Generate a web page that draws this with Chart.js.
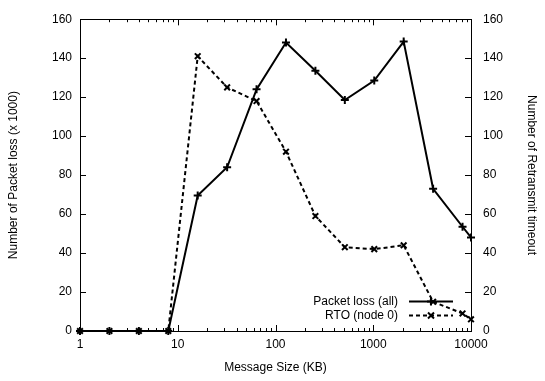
<!DOCTYPE html>
<html>
<head>
<meta charset="utf-8">
<script src="https://cdn.jsdelivr.net/npm/chart.js@4.4.0/dist/chart.umd.min.js"></script>
<style>
  html, body { margin: 0; padding: 0; background: #fff; }
</style>
</head>
<body>
<canvas id="lossChart" width="545" height="381"></canvas>
<script>
/* ===============================
   DATA
================================ */
const messageSizes = [1, 2, 4, 8, 16, 32, 64, 128, 256, 512, 1024, 2048, 4096, 8192, 10000];
const packetLoss = [0, 0, 0, 0, 69.5, 84, 124, 148, 133.5, 118.5, 128.5, 148.5, 73, 53.5, 48];
const rtoNode0 = [0, 0, 0, 0, 141, 125, 118, 92, 59, 43, 42, 44, 15, 9, 6];
const xTickValues = [1, 10, 100, 1000, 10000];
const yTickValues = [0, 20, 40, 60, 80, 100, 120, 140, 160];
const seriesNames = ["Packet loss (all)", "RTO (node 0)"];

const FONT = "'Liberation Sans', Arial, Helvetica, sans-serif";
Chart.defaults.font.family = FONT;
Chart.defaults.font.size = 12;
Chart.defaults.color = "#000";

function toPoints(values) {
  return messageSizes.map((x, i) => ({ x: x, y: values[i] }));
}

/* ===============================
   FRAME, TICKS, LEGEND (gnuplot look)
================================ */
const gnuplotFrame = {
  id: "gnuplotFrame",
  afterDatasetsDraw(chart) {
    const ctx = chart.ctx;
    const area = chart.chartArea;
    const xs = chart.scales.x;
    const yl = chart.scales.y;
    const yr = chart.scales.y2;

    ctx.save();
    ctx.strokeStyle = "#000";
    ctx.lineWidth = 1;
    ctx.strokeRect(Math.round(area.left) + 0.5, Math.round(area.top) + 0.5,
      Math.round(area.right - area.left), Math.round(area.bottom - area.top));

    ctx.beginPath();
    // x ticks, major and minor, bottom and top
    for (let d = 1; d < 10000; d *= 10) {
      for (let m = 1; m <= 10; m++) {
        const v = d * m;
        const px = Math.round(xs.getPixelForValue(v)) + 0.5;
        const len = (m === 1 || m === 10) ? 6 : 3;
        ctx.moveTo(px, area.bottom);
        ctx.lineTo(px, area.bottom - len);
        ctx.moveTo(px, area.top);
        ctx.lineTo(px, area.top + len);
      }
    }
    // y ticks
    yTickValues.forEach(v => {
      const pl = Math.round(yl.getPixelForValue(v)) + 0.5;
      ctx.moveTo(area.left, pl);
      ctx.lineTo(area.left + 6, pl);
      const pr = Math.round(yr.getPixelForValue(v)) + 0.5;
      ctx.moveTo(area.right, pr);
      ctx.lineTo(area.right - 6, pr);
    });
    ctx.stroke();

    // legend: text right aligned, then line sample with marker
    const rows = [301, 315];
    const sampleL = 409, sampleR = 453;
    ctx.font = "12px " + FONT;
    ctx.textAlign = "right";
    ctx.textBaseline = "middle";
    chart.data.datasets.forEach((ds, i) => {
      const y = rows[i] + 0.5;
      ctx.fillStyle = "#000";
      ctx.fillText(ds.label, sampleL - 11, y);
      ctx.beginPath();
      ctx.lineWidth = ds.borderWidth;
      ctx.setLineDash(ds.borderDash || []);
      ctx.moveTo(sampleL, y);
      ctx.lineTo(sampleR, y);
      ctx.stroke();
      ctx.setLineDash([]);
      const cx = (sampleL + sampleR) / 2;
      const r = ds.pointRadius;
      ctx.beginPath();
      if (ds.pointStyle === "cross") {
        ctx.moveTo(cx - r, y); ctx.lineTo(cx + r, y);
        ctx.moveTo(cx, y - r); ctx.lineTo(cx, y + r);
      } else {
        ctx.moveTo(cx - r * 0.75, y - r * 0.75); ctx.lineTo(cx + r * 0.75, y + r * 0.75);
        ctx.moveTo(cx - r * 0.75, y + r * 0.75); ctx.lineTo(cx + r * 0.75, y - r * 0.75);
      }
      ctx.lineWidth = ds.pointBorderWidth;
      ctx.stroke();
    });
    ctx.restore();
  }
};

/* ===============================
   CHART
================================ */
const ctx = document.getElementById("lossChart").getContext("2d");

new Chart(ctx, {
  type: "line",
  data: {
    datasets: [
      {
        label: seriesNames[0],
        data: toPoints(packetLoss),
        yAxisID: "y",
        borderColor: "#000",
        borderWidth: 2,
        pointStyle: "cross",
        pointRadius: 4,
        pointBorderWidth: 2,
        pointBorderColor: "#000",
        pointBackgroundColor: "#000",
        tension: 0,
        clip: false
      },
      {
        label: seriesNames[1],
        data: toPoints(rtoNode0),
        yAxisID: "y2",
        borderColor: "#000",
        borderWidth: 2,
        borderDash: [4, 3],
        pointStyle: "crossRot",
        pointRadius: 4,
        pointBorderWidth: 2,
        pointBorderColor: "#000",
        pointBackgroundColor: "#000",
        tension: 0,
        clip: false
      }
    ]
  },
  options: {
    responsive: false,
    animation: false,
    layout: { padding: { top: 13, left: 0, right: 0, bottom: 0 } },
    plugins: {
      legend: { display: false },
      tooltip: { enabled: false }
    },
    scales: {
      x: {
        type: "logarithmic",
        min: 1,
        max: 10000,
        afterBuildTicks: scale => {
          scale.ticks = xTickValues.map(v => ({ value: v }));
        },
        afterFit: scale => { scale.height = 50; },
        ticks: {
          autoSkip: false,
          maxRotation: 0,
          padding: 6,
          callback: v => String(v)
        },
        grid: { display: false, drawTicks: false },
        border: { display: false },
        title: {
          display: true,
          text: "Message Size (KB)",
          font: { size: 12 },
          padding: { top: 0, bottom: 6 }
        }
      },
      y: {
        position: "left",
        min: 0,
        max: 160,
        afterBuildTicks: scale => {
          scale.ticks = yTickValues.map(v => ({ value: v }));
        },
        afterFit: scale => { scale.width = 80; },
        ticks: { padding: 8 },
        grid: { display: false, drawTicks: false },
        border: { display: false },
        title: {
          display: true,
          text: "Number of Packet loss (x 1000)",
          font: { size: 12 },
          padding: { top: 6, bottom: 0 }
        }
      },
      y2: {
        position: "right",
        min: 0,
        max: 160,
        afterBuildTicks: scale => {
          scale.ticks = yTickValues.map(v => ({ value: v }));
        },
        afterFit: scale => { scale.width = 74; },
        ticks: { padding: 12 },
        grid: { display: false, drawTicks: false },
        border: { display: false },
        title: {
          display: true,
          text: "Number of Retransmit timeout",
          font: { size: 12 },
          padding: { top: 6, bottom: 0 }
        }
      }
    }
  },
  plugins: [gnuplotFrame]
});
</script>
</body>
</html>
